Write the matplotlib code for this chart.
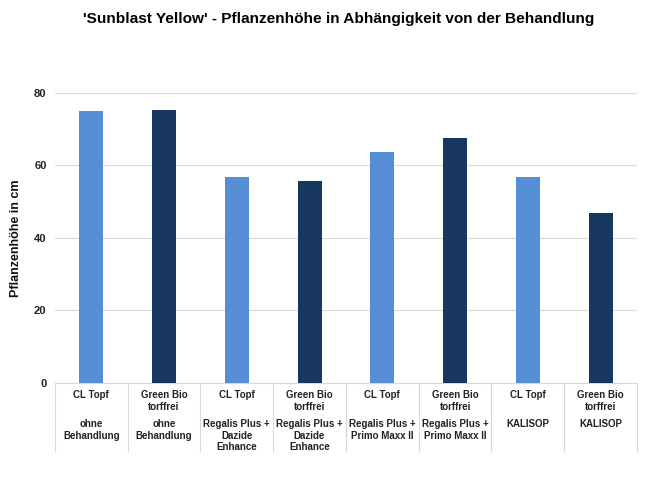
import numpy as np
import matplotlib.pyplot as plt
from matplotlib.ticker import FixedLocator

plt.rcParams['font.family'] = ['Liberation Sans', 'DejaVu Sans']

substrates = ["CL Topf", "Green Bio\ntorffrei", "CL Topf", "Green Bio\ntorffrei",
              "CL Topf", "Green Bio\ntorffrei", "CL Topf", "Green Bio\ntorffrei"]
treatments = ["ohne\nBehandlung", "ohne\nBehandlung",
              "Regalis Plus +\nDazide\nEnhance", "Regalis Plus +\nDazide\nEnhance",
              "Regalis Plus +\nPrimo Maxx II", "Regalis Plus +\nPrimo Maxx II",
              "KALISOP", "KALISOP"]
heights = [75.0, 75.4, 56.7, 55.6, 63.6, 67.6, 56.7, 47.0]
group = ["CL", "GB", "CL", "GB", "CL", "GB", "CL", "GB"]

colors = {"CL": "#558ED5", "GB": "#17375E"}

fig = plt.figure(figsize=(6.46, 4.84), dpi=100)
ax = fig.add_axes([0.085, 0.2087, 0.901, 0.5992])

x = np.arange(len(heights))
ax.bar(x, heights, width=0.33, color=[colors[g] for g in group], zorder=3)

ax.set_xlim(-0.5, len(heights) - 0.5)
ax.set_ylim(0, 80)
ax.set_yticks([0, 20, 40, 60, 80])
ax.tick_params(axis='y', length=0, labelsize=8, pad=6, labelcolor='#222222')
for lab in ax.get_yticklabels():
    lab.set_fontweight('bold')
ax.grid(axis='y', color='#D9D9D9', linewidth=0.8, zorder=0)

# category table below the axis: separators as long major ticks
ax.xaxis.set_major_locator(FixedLocator(np.arange(-0.5, len(heights), 1.0)))
ax.set_xticklabels([])
ax.tick_params(axis='x', which='major', length=50, color='#D9D9D9', width=0.8)

for xi, sub, trt in zip(x, substrates, treatments):
    ax.annotate(sub, xy=(xi, 0), xycoords=('data', 'axes fraction'),
                xytext=(0, -5), textcoords='offset points', ha='center', va='top',
                fontsize=7, fontweight='bold', linespacing=1.2, color='#222222')
    ax.annotate(trt, xy=(xi, 0), xycoords=('data', 'axes fraction'),
                xytext=(0, -26), textcoords='offset points', ha='center', va='top',
                fontsize=7, fontweight='bold', linespacing=1.2, color='#222222')

for s in ['top', 'right', 'left']:
    ax.spines[s].set_visible(False)
ax.spines['bottom'].set_color('#D9D9D9')

ax.set_ylabel("Pflanzenhöhe in cm", fontsize=9, fontweight='bold', labelpad=9,
              color='#111111')
fig.suptitle("'Sunblast Yellow' - Pflanzenhöhe in Abhängigkeit von der Behandlung",
             fontsize=11.1, fontweight='bold', y=0.975, x=0.524)

fig.savefig("out.png", dpi=100)
